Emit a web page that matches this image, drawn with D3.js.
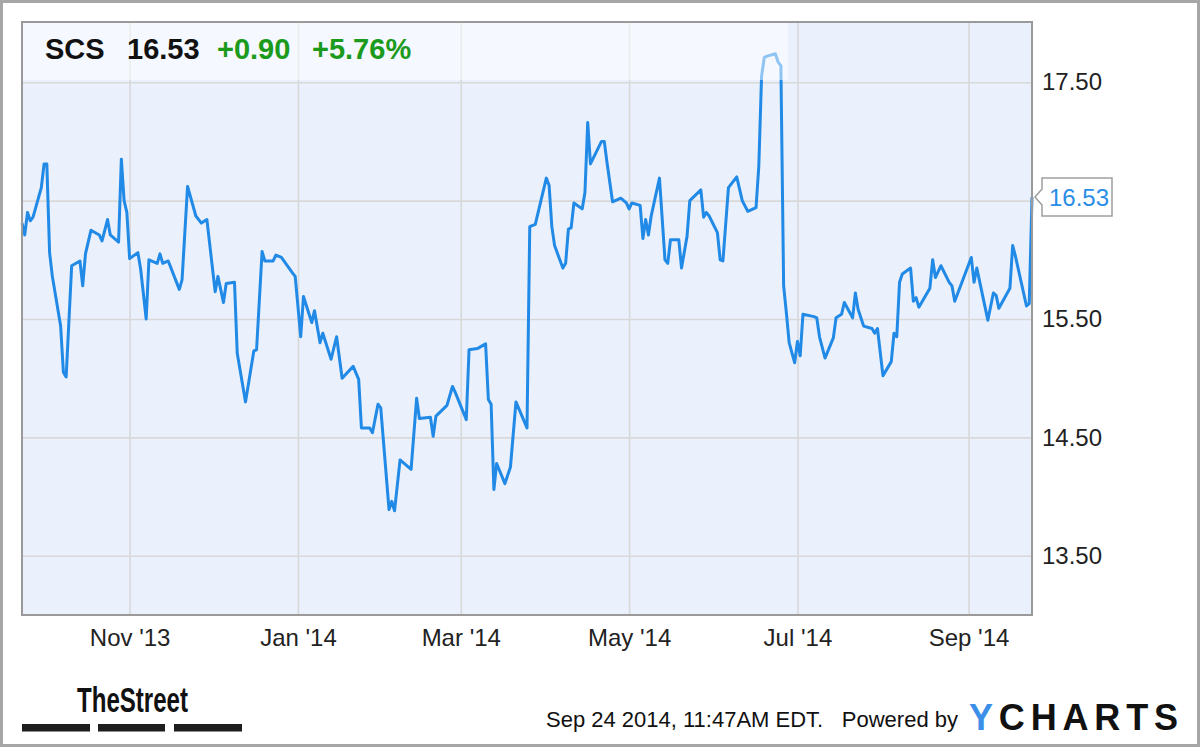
<!DOCTYPE html>
<html>
<head>
<meta charset="utf-8">
<script src="https://cdn.jsdelivr.net/npm/d3@7"></script>
<style>
  html, body { margin: 0; padding: 0; background: #fff; }
  svg { display: block; }
  text { font-family: "Liberation Sans", Arial, sans-serif; }
</style>
</head>
<body>
<svg id="chart" width="1200" height="747"></svg>
<script>
// ---------------- data ----------------
const ticker = "SCS";
const lastPrice = "16.53";
const change = "+0.90";
const changePct = "+5.76%";
const timestamp = "Sep 24 2014, 11:47AM EDT.";
const poweredBy = "Powered by";

const dates = [
  "2013-09-23","2013-09-24","2013-09-25","2013-09-26","2013-09-27","2013-09-30",
  "2013-10-01","2013-10-02","2013-10-03","2013-10-04","2013-10-07","2013-10-08","2013-10-09","2013-10-11",
  "2013-10-14","2013-10-15","2013-10-16","2013-10-18","2013-10-21","2013-10-22","2013-10-24","2013-10-25",
  "2013-10-28","2013-10-29","2013-10-30","2013-10-31",
  "2013-11-01","2013-11-04","2013-11-05","2013-11-07","2013-11-08","2013-11-11","2013-11-12","2013-11-13",
  "2013-11-15","2013-11-19","2013-11-20","2013-11-22","2013-11-25","2013-11-27","2013-11-29",
  "2013-12-02","2013-12-03","2013-12-05","2013-12-06","2013-12-09","2013-12-10","2013-12-13","2013-12-16",
  "2013-12-17","2013-12-19","2013-12-20","2013-12-23","2013-12-24","2013-12-26","2013-12-30","2013-12-31",
  "2014-01-02","2014-01-03","2014-01-06","2014-01-07","2014-01-09","2014-01-10","2014-01-13","2014-01-15",
  "2014-01-17","2014-01-21","2014-01-23","2014-01-24","2014-01-27","2014-01-28","2014-01-30","2014-01-31",
  "2014-02-03","2014-02-04","2014-02-05","2014-02-07","2014-02-11","2014-02-13","2014-02-14","2014-02-18",
  "2014-02-19","2014-02-20","2014-02-24","2014-02-26","2014-02-27",
  "2014-03-03","2014-03-04","2014-03-07","2014-03-10","2014-03-11","2014-03-12","2014-03-13","2014-03-14",
  "2014-03-17","2014-03-19","2014-03-21","2014-03-25","2014-03-26","2014-03-28",
  "2014-04-01","2014-04-02","2014-04-03","2014-04-04","2014-04-07","2014-04-08","2014-04-09","2014-04-10",
  "2014-04-11","2014-04-14","2014-04-15","2014-04-16","2014-04-17","2014-04-21","2014-04-22","2014-04-23",
  "2014-04-25","2014-04-28","2014-04-30",
  "2014-05-01","2014-05-02","2014-05-05","2014-05-06","2014-05-07","2014-05-08","2014-05-09","2014-05-12",
  "2014-05-14","2014-05-15","2014-05-16","2014-05-19","2014-05-20","2014-05-22","2014-05-23","2014-05-27",
  "2014-05-28","2014-05-29","2014-05-30",
  "2014-06-02","2014-06-03","2014-06-04","2014-06-06","2014-06-09","2014-06-11","2014-06-13","2014-06-16",
  "2014-06-17","2014-06-18","2014-06-19","2014-06-20","2014-06-23","2014-06-24","2014-06-25","2014-06-26",
  "2014-06-27","2014-06-28","2014-06-30",
  "2014-07-01","2014-07-02","2014-07-03","2014-07-07","2014-07-08","2014-07-09","2014-07-11","2014-07-14",
  "2014-07-15","2014-07-17","2014-07-18","2014-07-21","2014-07-22","2014-07-23","2014-07-25","2014-07-28",
  "2014-07-29","2014-07-30",
  "2014-08-01","2014-08-04","2014-08-05","2014-08-06","2014-08-07","2014-08-08","2014-08-11","2014-08-12",
  "2014-08-13","2014-08-14","2014-08-18","2014-08-19","2014-08-20","2014-08-22","2014-08-25","2014-08-26",
  "2014-08-27",
  "2014-09-02","2014-09-03","2014-09-04","2014-09-08","2014-09-10","2014-09-11","2014-09-12","2014-09-16",
  "2014-09-17","2014-09-18","2014-09-22","2014-09-23","2014-09-24"
];

const prices = [
  16.31,16.21,16.40,16.33,16.36,16.61,
  16.81,16.81,16.06,15.86,15.44,15.05,15.01,15.95,
  15.99,15.78,16.05,16.25,16.21,16.16,16.34,16.21,
  16.15,16.85,16.50,16.40,
  16.01,16.06,15.92,15.50,16.00,15.97,16.05,15.97,
  15.99,15.75,15.83,16.62,16.37,16.31,16.34,
  15.73,15.86,15.64,15.80,15.81,15.21,14.80,15.23,
  15.24,16.07,15.99,15.99,16.04,16.02,15.89,15.86,
  15.35,15.69,15.47,15.57,15.30,15.38,15.16,15.35,
  15.00,15.10,14.99,14.58,14.58,14.54,14.78,14.75,
  13.89,13.96,13.88,14.31,14.23,14.83,14.66,14.67,
  14.51,14.68,14.77,14.93,14.88,
  14.65,15.24,15.25,15.29,14.82,14.78,14.06,14.28,
  14.11,14.25,14.80,14.58,16.28,16.30,
  16.69,16.63,16.28,16.12,15.93,15.97,16.26,16.27,
  16.48,16.43,16.57,17.16,16.81,17.00,17.00,16.82,
  16.49,16.52,16.48,
  16.43,16.48,16.46,16.18,16.34,16.21,16.37,16.69,
  16.00,15.97,16.17,16.17,15.93,16.20,16.50,16.59,
  16.36,16.40,16.37,
  16.23,16.00,15.99,16.61,16.70,16.50,16.41,16.44,
  16.79,17.55,17.71,17.72,17.74,17.67,17.64,15.78,
  15.55,15.30,15.13,
  15.31,15.19,15.54,15.52,15.51,15.35,15.17,15.34,
  15.51,15.54,15.64,15.51,15.72,15.58,15.44,15.42,
  15.38,15.42,
  15.02,15.14,15.38,15.35,15.81,15.88,15.93,15.65,
  15.68,15.60,15.76,16.00,15.85,15.95,15.81,15.78,
  15.65,
  16.02,15.81,15.93,15.49,15.72,15.70,15.59,15.76,
  16.12,16.03,15.61,15.63,16.53
];

const xDomain = ["2013-09-23", "2014-09-24"];
const xTickDates = ["2013-11-01","2014-01-01","2014-03-01","2014-05-01","2014-07-01","2014-09-01"];
const xTickLabels = ["Nov '13","Jan '14","Mar '14","May '14","Jul '14","Sep '14"];
const yDomain = [13, 18];
const yTicks = [13.5, 14.5, 15.5, 16.5, 17.5];
const yTickLabels = ["13.50", "14.50", "15.50", "16.50", "17.50"];

// ---------------- layout ----------------
const W = 1200, H = 747;
const plot = { left: 22, top: 23, right: 1032, bottom: 615 };
const parse = d3.utcParse("%Y-%m-%d");
const data = dates.map((d, i) => ({ date: parse(d), value: prices[i] }));

const x = d3.scaleUtc().domain(xDomain.map(parse)).range([plot.left, plot.right]);
const y = d3.scaleLinear().domain(yDomain).range([plot.bottom, plot.top]);

const svg = d3.select("#chart");
const lineColor = "#2189e6";
const gridColor = "#d8d8d8";

// outer frame
svg.append("rect").attr("x", 1.5).attr("y", 1.5).attr("width", W - 3).attr("height", H - 3)
  .attr("fill", "#fff").attr("stroke", "#a6a6a6").attr("stroke-width", 3);

// plot background
svg.append("rect").attr("x", plot.left).attr("y", plot.top)
  .attr("width", plot.right - plot.left).attr("height", plot.bottom - plot.top)
  .attr("fill", "#eaf1fc");

// y axis (right) with gridlines
const lastVal = prices[prices.length - 1];
const yAxis = d3.axisRight(y)
  .tickValues(yTicks)
  .tickSize(-(plot.right - plot.left))
  .tickPadding(10)
  .tickFormat((d, i) => yTickLabels[i]);
const gy = svg.append("g").attr("transform", `translate(${plot.right},0)`).call(yAxis);
gy.select(".domain").remove();
gy.selectAll(".tick line").attr("stroke", gridColor).attr("stroke-width", 1.6);
gy.selectAll(".tick text")
  .attr("fill", "#222").attr("font-size", 24)
  .attr("font-family", "'Liberation Sans', Arial, sans-serif")
  .style("display", d => Math.abs(d - lastVal) < 0.2 ? "none" : null);

// x axis (bottom) with gridlines
const xAxis = d3.axisBottom(x)
  .tickValues(xTickDates.map(parse))
  .tickSize(-(plot.bottom - plot.top))
  .tickPadding(14)
  .tickFormat((d, i) => xTickLabels[i]);
const gx = svg.append("g").attr("transform", `translate(0,${plot.bottom})`).call(xAxis);
gx.select(".domain").remove();
gx.selectAll(".tick line").attr("stroke", gridColor).attr("stroke-width", 1.6);
gx.selectAll(".tick text")
  .attr("fill", "#222").attr("font-size", 24)
  .attr("font-family", "'Liberation Sans', Arial, sans-serif");

// price line
const line = d3.line().x(d => x(d.date)).y(d => y(d.value));
svg.append("path").datum(data)
  .attr("d", line)
  .attr("fill", "none")
  .attr("stroke", lineColor)
  .attr("stroke-width", 3)
  .attr("stroke-linejoin", "round");

// header translucent box
svg.append("rect").attr("x", plot.left).attr("y", plot.top)
  .attr("width", 766).attr("height", 57)
  .attr("fill", "#ffffff").attr("fill-opacity", 0.5);

// header text
const header = svg.append("g").attr("font-weight", "bold").attr("font-size", 29);
header.append("text").attr("x", 45).attr("y", 59).attr("fill", "#111").text(ticker);
header.append("text").attr("x", 127).attr("y", 59).attr("fill", "#111").text(lastPrice);
header.append("text").attr("x", 217).attr("y", 59).attr("fill", "#1c9a1c").text(change);
header.append("text").attr("x", 312).attr("y", 59).attr("fill", "#1c9a1c").text(changePct);

// plot border
svg.append("rect").attr("x", plot.left).attr("y", plot.top - 1)
  .attr("width", plot.right - plot.left).attr("height", plot.bottom - plot.top + 1)
  .attr("fill", "none").attr("stroke", "#9a9a9a").attr("stroke-width", 2);

// last-value callout
const ly = y(lastVal);
const bx0 = 1042, bx1 = 1112, bh = 19;
svg.append("path")
  .attr("d", `M${bx0},${ly - bh} L${bx1},${ly - bh} L${bx1},${ly + bh} L${bx0},${ly + bh} L${bx0},${ly + 8} L${plot.right + 3},${ly} L${bx0},${ly - 8} Z`)
  .attr("fill", "#fff").attr("stroke", "#9e9e9e").attr("stroke-width", 1.5);
svg.append("text").attr("x", 1049).attr("y", ly + 9)
  .attr("font-size", 24).attr("fill", "#2a8de6").text(lastPrice);

// footer: TheStreet logo
svg.append("text").attr("x", 77).attr("y", 712)
  .attr("font-family", "'Liberation Sans Narrow', 'Arial Narrow', 'Liberation Sans', sans-serif")
  .attr("font-weight", "bold").attr("font-size", 35)
  .attr("textLength", 111).attr("lengthAdjust", "spacingAndGlyphs")
  .attr("fill", "#111").text("TheStreet");
const barX = [22, 98, 174], barW = [68, 67, 68];
barX.forEach((bx, i) => {
  svg.append("rect").attr("x", bx).attr("y", 724).attr("width", barW[i]).attr("height", 7.5).attr("fill", "#1e1e1e");
});

// footer: timestamp + powered by
svg.append("text").attr("x", 546).attr("y", 727).attr("font-size", 22).attr("fill", "#111").text(timestamp);
svg.append("text").attr("x", 958).attr("y", 727).attr("text-anchor", "end").attr("font-size", 22).attr("fill", "#111").text(poweredBy);

// YCHARTS logo
const yc = svg.append("text").attr("x", 969).attr("y", 730)
  .attr("font-weight", "bold").attr("font-size", 36)
  .attr("textLength", 209).attr("lengthAdjust", "spacing");
yc.append("tspan").attr("fill", "#3c8fe8").text("Y");
yc.append("tspan").attr("fill", "#111").text("CHARTS");
</script>
</body>
</html>
